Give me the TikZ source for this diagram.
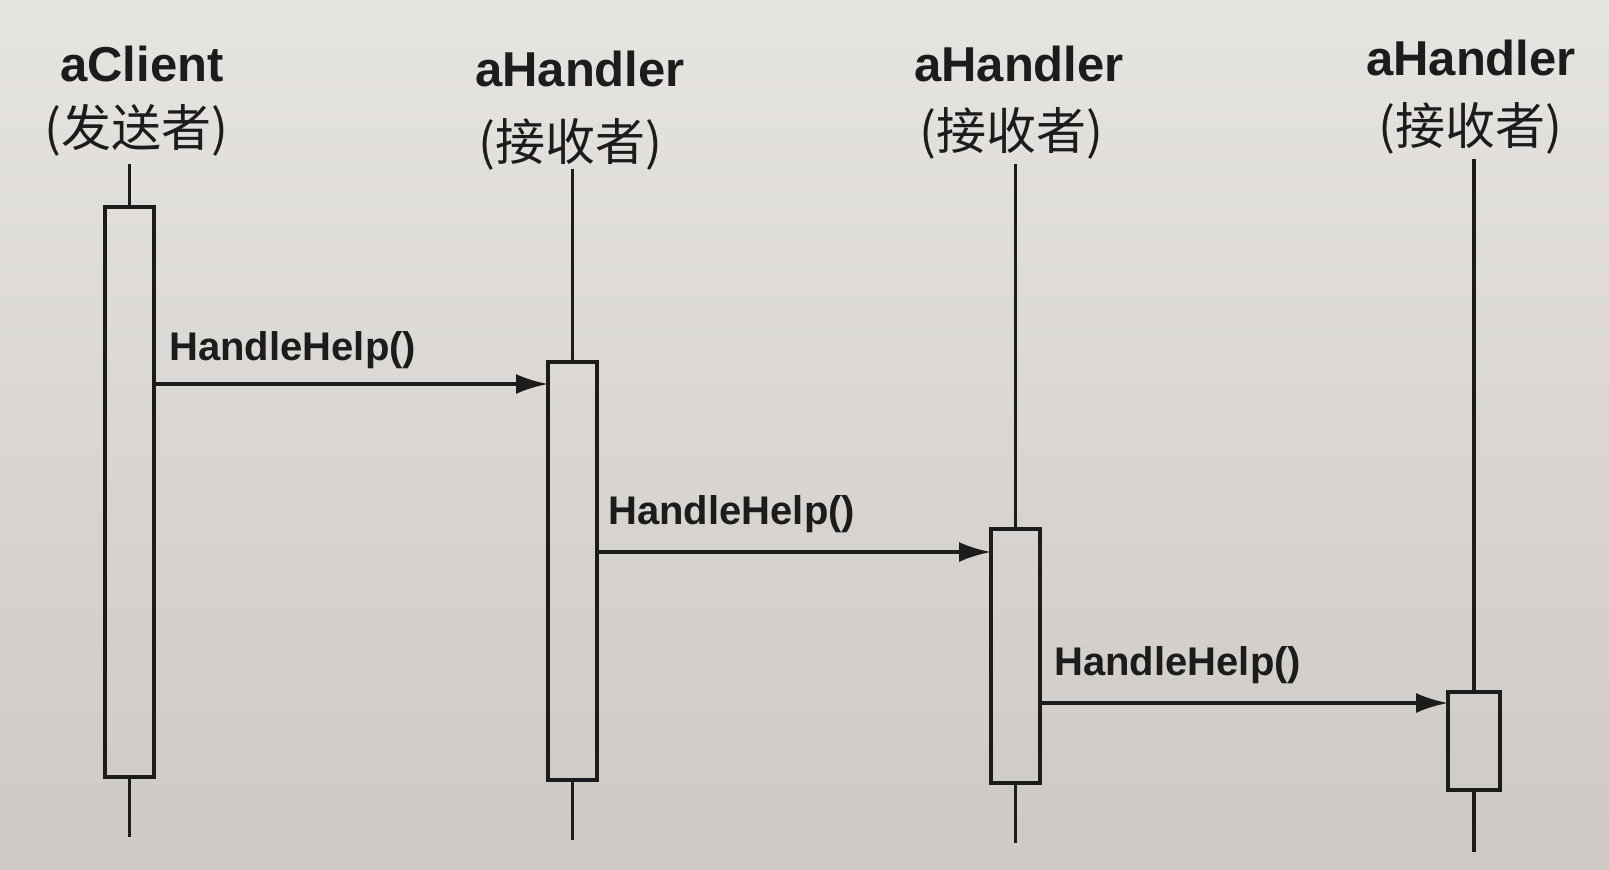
\documentclass[tikz,border=0pt]{standalone}
\usepackage{fontspec}
\setmainfont{Liberation Sans}
\newfontfamily\cjk{Noto Sans CJK SC}
\usetikzlibrary{arrows.meta}
\definecolor{papertop}{HTML}{E6E4E1}
\definecolor{paperbot}{HTML}{CDC9C5}
\definecolor{inkc}{HTML}{1C1C1C}
\begin{document}
\begin{tikzpicture}[x=0.5pt,y=-0.5pt,
 ink/.style={draw=inkc, line width=1.8pt},
 actbox/.style={ink, rectangle, inner sep=0pt, outer sep=0pt, anchor=north west},
 msg/.style={ink, -{Latex[length=16pt,width=10pt]}},
 objname/.style={font=\fontsize{24.5}{28}\selectfont\bfseries, text=inkc, inner sep=0pt},
 role/.style={font=\cjk\fontsize{25}{28}\selectfont, text=inkc, inner sep=0pt},
 msglabel/.style={font=\fontsize{20}{24}\selectfont\bfseries, text=inkc, inner sep=0pt, anchor=west}]
\shade[top color=papertop, bottom color=paperbot] (0,0) rectangle (1609,869);
\useasboundingbox (0,0) rectangle (1609,869);
% headers
\node[objname] (n1) at (142,64) {aClient};
\node[role] (r1) at (136,130) {(发送者)};
\node[objname] (n2) at (580,69) {aHandler};
\node[role] (r2) at (570,144) {(接收者)};
\node[objname] (n3) at (1019,64) {aHandler};
\node[role] (r3) at (1011,133) {(接收者)};
\node[objname] (n4) at (1471,58) {aHandler};
\node[role] (r4) at (1470,128) {(接收者)};
% activation boxes
\node[actbox, minimum width=24.5pt, minimum height=285pt] (b1) at (105,207) {};
\node[actbox, minimum width=24.5pt, minimum height=209pt] (b2) at (548,362) {};
\node[actbox, minimum width=24.5pt, minimum height=127pt] (b3) at (991,529) {};
\node[actbox, minimum width=26pt, minimum height=49pt] (b4) at (1448,692) {};
% lifeline ends (only their heights are used)
\coordinate (t1) at (0,164);
\coordinate (t2) at (0,169);
\coordinate (t3) at (0,164);
\coordinate (t4) at (0,159);
\coordinate (e1) at (0,837);
\coordinate (e2) at (0,840);
\coordinate (e3) at (0,843);
\coordinate (e4) at (0,852);
\draw[ink] (b1.north |- t1) -- (b1.north);
\draw[ink] (b1.south) -- (b1.south |- e1);
\draw[ink] (b2.north |- t2) -- (b2.north);
\draw[ink] (b2.south) -- (b2.south |- e2);
\draw[ink] (b3.north |- t3) -- (b3.north);
\draw[ink] (b3.south) -- (b3.south |- e3);
\draw[ink] (b4.north |- t4) -- (b4.north);
\draw[ink] (b4.south) -- (b4.south |- e4);
% messages
\coordinate (m1) at (0,384);
\coordinate (m2) at (0,552);
\coordinate (m3) at (0,703);
\draw[msg] (b1.east |- m1) -- (b2.west |- m1);
\draw[msg] (b2.east |- m2) -- (b3.west |- m2);
\draw[msg] (b3.east |- m3) -- (b4.west |- m3);
\node[msglabel] (l1) at (169,350) {HandleHelp()};
\node[msglabel] (l2) at (608,514) {HandleHelp()};
\node[msglabel] (l3) at (1054,665) {HandleHelp()};
\end{tikzpicture}
\end{document}
